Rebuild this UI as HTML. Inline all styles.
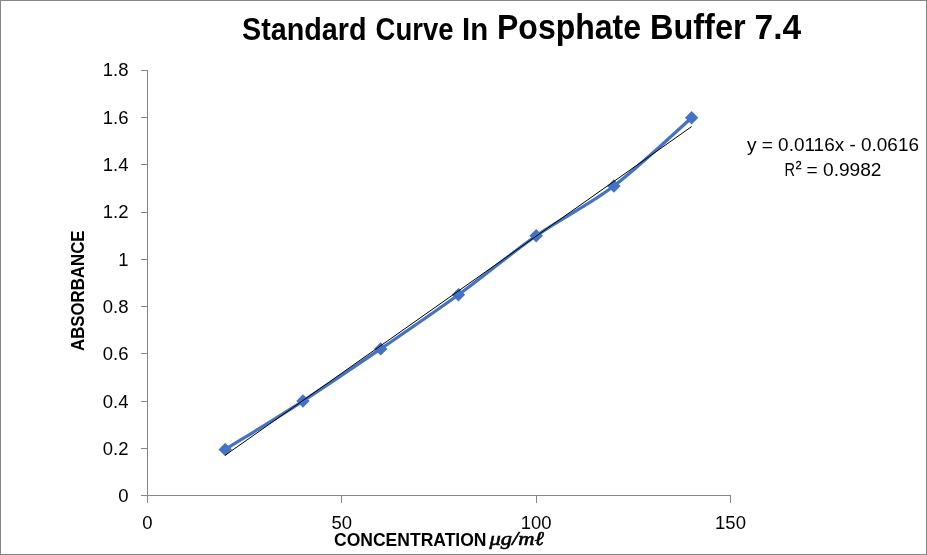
<!DOCTYPE html>
<html><head><meta charset="utf-8"><style>
html,body{margin:0;padding:0;background:#fff;}
body{width:927px;height:555px;overflow:hidden;}
svg{display:block;will-change:transform;}
text{font-family:"Liberation Sans",sans-serif;fill:#000;}
</style></head><body>
<svg width="927" height="555" viewBox="0 0 927 555">
<rect x="0.5" y="0.5" width="926" height="554" fill="#fff" stroke="#868686" stroke-width="1"/>
<g stroke="#868686" stroke-width="1" fill="none">
<line x1="147.5" y1="70" x2="147.5" y2="503"/>
<line x1="141" y1="495.5" x2="731" y2="495.5"/>
<line x1="141" y1="495.50" x2="147" y2="495.50"/><line x1="141" y1="448.50" x2="147" y2="448.50"/><line x1="141" y1="401.50" x2="147" y2="401.50"/><line x1="141" y1="353.50" x2="147" y2="353.50"/><line x1="141" y1="306.50" x2="147" y2="306.50"/><line x1="141" y1="259.50" x2="147" y2="259.50"/><line x1="141" y1="212.50" x2="147" y2="212.50"/><line x1="141" y1="164.50" x2="147" y2="164.50"/><line x1="141" y1="117.50" x2="147" y2="117.50"/><line x1="141" y1="70.50" x2="147" y2="70.50"/><line x1="147.50" y1="495" x2="147.50" y2="503"/><line x1="341.50" y1="495" x2="341.50" y2="503"/><line x1="536.50" y1="495" x2="536.50" y2="503"/><line x1="730.50" y1="495" x2="730.50" y2="503"/>
</g>
<path d="M225.23,449.46 C238.19,441.39 277.06,417.82 302.97,401.06 C328.88,384.29 354.79,366.58 380.70,348.88 C406.61,331.17 432.52,313.66 458.43,294.81 C484.34,275.96 510.26,253.92 536.17,235.78 C562.08,217.64 587.99,205.63 613.90,185.96 C639.81,166.28 678.68,129.09 691.63,117.72" fill="none" stroke="#4472C4" stroke-width="3.2" stroke-linejoin="round"/>
<g fill="#4472C4"><path d="M225.23,442.76 l6.70,6.70 l-6.70,6.70 l-6.70,-6.70 z"/><path d="M302.97,394.36 l6.70,6.70 l-6.70,6.70 l-6.70,-6.70 z"/><path d="M380.70,342.18 l6.70,6.70 l-6.70,6.70 l-6.70,-6.70 z"/><path d="M458.43,288.11 l6.70,6.70 l-6.70,6.70 l-6.70,-6.70 z"/><path d="M536.17,229.08 l6.70,6.70 l-6.70,6.70 l-6.70,-6.70 z"/><path d="M613.90,179.26 l6.70,6.70 l-6.70,6.70 l-6.70,-6.70 z"/><path d="M691.63,111.02 l6.70,6.70 l-6.70,6.70 l-6.70,-6.70 z"/></g>
<line x1="225.23" y1="455.27" x2="691.63" y2="126.60" stroke="#000" stroke-width="1"/>
<g font-size="18.5"><text x="128.5" y="502.00" text-anchor="end">0</text><text x="128.5" y="455.00" text-anchor="end">0.2</text><text x="128.5" y="408.00" text-anchor="end">0.4</text><text x="128.5" y="360.00" text-anchor="end">0.6</text><text x="128.5" y="313.00" text-anchor="end">0.8</text><text x="128.5" y="266.00" text-anchor="end">1</text><text x="128.5" y="218.00" text-anchor="end">1.2</text><text x="128.5" y="171.00" text-anchor="end">1.4</text><text x="128.5" y="124.00" text-anchor="end">1.6</text><text x="128.5" y="76.00" text-anchor="end">1.8</text></g>
<g font-size="18.5"><text x="147.50" y="529" text-anchor="middle">0</text><text x="341.83" y="529" text-anchor="middle">50</text><text x="536.17" y="529" text-anchor="middle">100</text><text x="730.50" y="529" text-anchor="middle">150</text></g>
<g font-weight="bold">
<text x="242" y="39.5" font-size="31.5" textLength="124.57" lengthAdjust="spacingAndGlyphs">Standard</text>
<text x="375.5" y="39.5" font-size="31.5" textLength="78.03" lengthAdjust="spacingAndGlyphs">Curve</text>
<text x="462" y="39.5" font-size="31.5" textLength="26.12" lengthAdjust="spacingAndGlyphs">In</text>
<text x="497" y="39.2" font-size="35" textLength="144.09" lengthAdjust="spacingAndGlyphs">Posphate</text>
<text x="650" y="39.2" font-size="35" textLength="95.59" lengthAdjust="spacingAndGlyphs">Buffer</text>
<text x="754.5" y="39.2" font-size="35" textLength="46.57" lengthAdjust="spacingAndGlyphs">7.4</text>
<text x="334" y="545.5" font-size="17.5" textLength="152.5" lengthAdjust="spacingAndGlyphs">CONCENTRATION</text>
<text x="489.5" y="545.3" font-size="19.5" font-weight="normal" style="font-family:'Liberation Serif',serif;font-style:italic" stroke="#000" stroke-width="0.6" textLength="54.5" lengthAdjust="spacingAndGlyphs">&#956;g/m&#8467;</text>
<text transform="translate(84,351) rotate(-90)" x="0" y="0" font-size="18" textLength="120.5" lengthAdjust="spacingAndGlyphs">ABSORBANCE</text>
</g>
<g font-size="18.5">
<text x="747" y="151" textLength="172" lengthAdjust="spacingAndGlyphs">y = 0.0116x - 0.0616</text>
<text x="784.5" y="176" textLength="10.5" lengthAdjust="spacingAndGlyphs">R</text>
<text x="795.5" y="169" font-size="11.5" stroke="#000" stroke-width="0.35" textLength="6.2" lengthAdjust="spacingAndGlyphs">2</text>
<text x="806.5" y="176" textLength="75" lengthAdjust="spacingAndGlyphs">= 0.9982</text>
</g>
</svg>
</body></html>
